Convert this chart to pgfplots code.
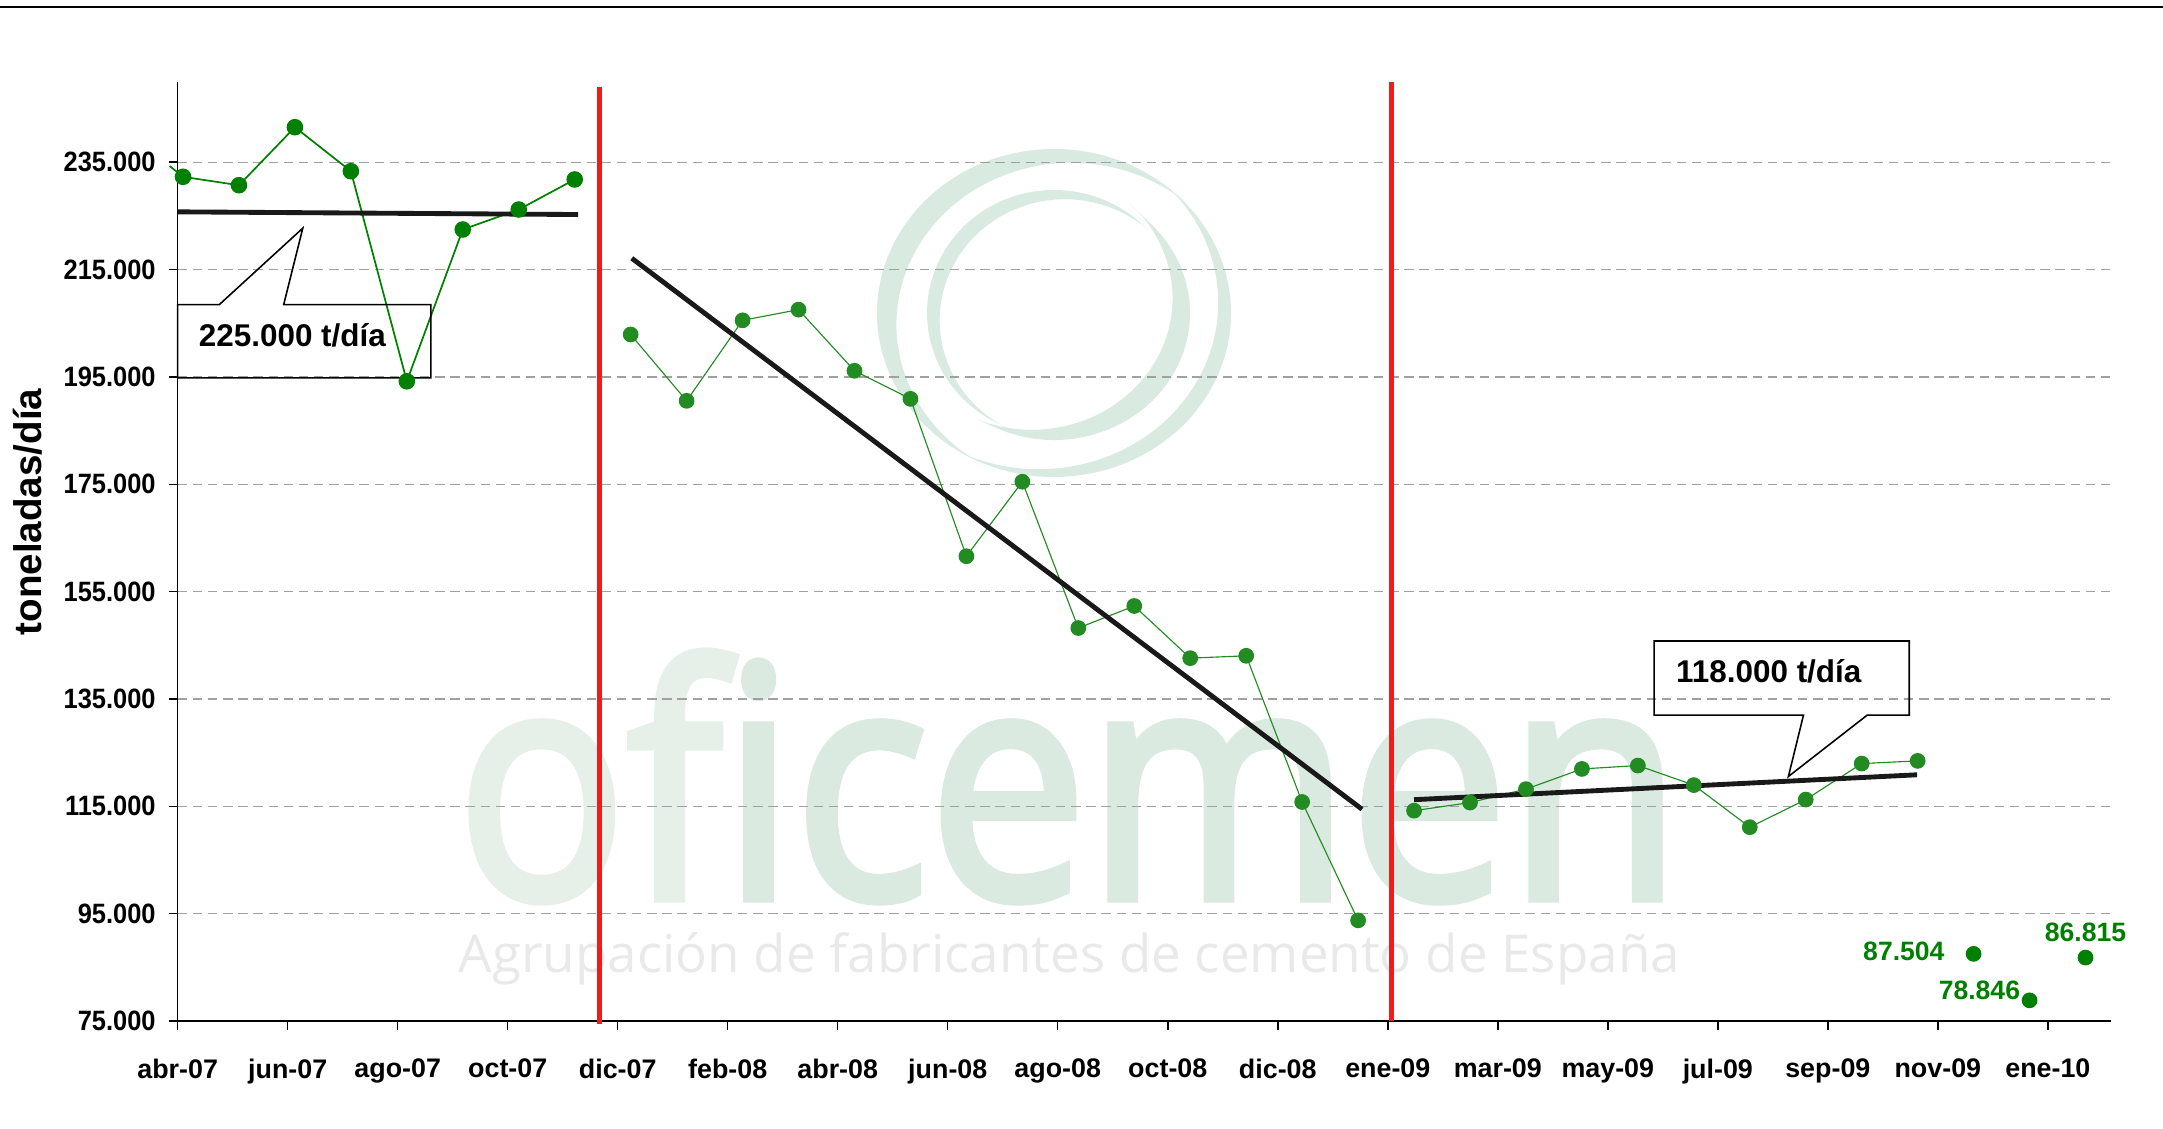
\documentclass[border=0pt]{standalone}
\usepackage{fontspec}
\setmainfont{Liberation Sans}
\newfontfamily\logofont[Ligatures=NoCommon]{Open Sans}
\newfontfamily\logofontm[Ligatures=NoCommon,FakeBold=2.8]{Open Sans}
\usepackage{graphicx}
\usepackage{pgfplots}
\pgfplotsset{compat=1.18}

\definecolor{dgreen}{RGB}{0,128,0}
\definecolor{lgreen}{RGB}{34,139,34}
\definecolor{wmgreen}{RGB}{217,235,224}
\definecolor{wmtext}{RGB}{218,234,224}
\definecolor{wmlight}{RGB}{230,240,233}
\definecolor{wmgray}{RGB}{233,233,233}
\definecolor{gridgray}{RGB}{160,160,160}
\definecolor{redline}{RGB}{240,28,28}
\definecolor{trend}{RGB}{25,25,25}

% crescent: cx cy rx ry a1 a2 thickness
\newcommand\crescent[7]{%
  \pgfmathsetmacro\cm{(#5+#6)/2}%
  \pgfmathsetmacro\ch{(#6-#5)/2}%
  \pgfmathsetmacro\cs{#7/(1-cos(\ch))}%
  \pgfmathsetmacro\ct{-\cs*cos(\ch)}%
  \pgfmathsetmacro\cxi{#1-\cs*cos(\cm)}%
  \pgfmathsetmacro\cyi{#2-\cs*sin(\cm)}%
  \pgfmathsetmacro\rxi{#3-\ct}%
  \pgfmathsetmacro\ryi{#4-\ct}%
  \pgfmathsetmacro\pax{#1+#3*cos(#5)}%
  \pgfmathsetmacro\pay{#2+#4*sin(#5)}%
  \pgfmathsetmacro\pbx{\cxi+\rxi*cos(#6)}%
  \pgfmathsetmacro\pby{\cyi+\ryi*sin(#6)}%
  \fill[wmgreen] (\pax,\pay) arc[start angle=#5,end angle=#6,x radius=#3,y radius=#4]
     -- (\pbx,\pby) arc[start angle=#6,end angle=#5,x radius=\rxi,y radius=\ryi] -- cycle;%
}

\begin{document}
\begin{tikzpicture}[x=0.35pt,y=0.35pt]
\useasboundingbox (0,0) rectangle (2163,-1128);
\draw[line width=0.45pt] (0,-7) -- (2163,-7);

% watermark logo
\crescent{1054}{-313}{177}{164}{50}{242}{23}
\crescent{1054}{-313}{177}{164}{-116}{48}{16}
\crescent{1054}{-313}{127}{123}{48}{243}{15}
\crescent{1054}{-313}{136}{127}{-114}{46}{22}
\node[anchor=base west, inner sep=0, text=wmtext] at (456,-898)
  {\resizebox{428.7pt}{86.1pt}{\logofontm\textcolor{wmlight}{of}icemen}};
\node[anchor=base west, inner sep=0, text=wmgray] at (458,-972)
  {\resizebox{427.5pt}{14pt}{\logofont Agrupación de fabricantes de cemento de España}};

% y label
\node[rotate=90, inner sep=0, font=\fontsize{13.5}{15}\selectfont\bfseries] at (28,-512) {toneladas/día};

\begin{axis}[
  at={(62.195pt,-357.35pt)}, anchor=south west,
  scale only axis, width=676.55pt, height=328.76pt,
  xmin=-0.095, xmax=34.45, ymin=75000, ymax=250000,
  scaled y ticks=false,
  axis lines*=left,
  axis line style={line width=0.5pt, black},
  xtick={-0.095,1.871,3.837,5.803,7.769,9.735,11.701,13.667,15.633,17.599,19.565,21.531,23.497,25.463,27.429,29.395,31.361,33.327},
  xticklabels={abr-07,jun-07,ago-07,oct-07,dic-07,feb-08,abr-08,jun-08,ago-08,oct-08,dic-08,ene-09,mar-09,may-09,jul-09,sep-09,nov-09,ene-10},
  ytick={75000,95000,115000,135000,155000,175000,195000,215000,235000},
  yticklabels={75.000,95.000,115.000,135.000,155.000,175.000,195.000,215.000,235.000},
  tick align=outside, major tick length=3pt,
  tick style={black, line width=0.5pt},
  xticklabel style={font=\fontsize{9.4}{11}\selectfont\bfseries, yshift=-6.8pt},
  yticklabel style={font=\fontsize{8.9}{11}\selectfont\bfseries, yscale=1.1, xshift=-1.2pt},
  ymajorgrids,
  grid style={gridgray, line width=0.45pt, dash pattern=on 3.3pt off 2pt},
  clip=false,
]
% red separators
\addplot[redline, line width=1.6pt] coordinates {(7.44,74400) (7.44,249050)};
\addplot[redline, line width=1.6pt] coordinates {(21.60,75000) (21.60,250000)};

% segment 1 (abr-07 .. nov-07)
\addplot[dgreen, line width=0.6pt] coordinates {(-0.24,234300) (0,232280)};
\addplot[dgreen, line width=0.6pt, mark=*, mark size=2.6pt, mark options={fill=dgreen, draw=dgreen}]
  coordinates {(0,232280) (1,230710) (2,241520) (3,233320) (4,194180) (5,222460) (6,226180) (7,231780)};
% segment 2 (dic-07 .. ene-09)
\addplot[lgreen, line width=0.4pt, mark=*, mark size=2.55pt, mark options={fill=lgreen, draw=lgreen}]
  coordinates {(8,202900) (9,190540) (10,205540) (11,207530) (12,196140) (13,190910) (14,161590)
   (15,175470) (16,148210) (17,152320) (18,142600) (19,143040) (20,115800) (21,93750)};
% segment 3 (feb-09 .. nov-09)
\addplot[lgreen, line width=0.4pt, mark=*, mark size=2.55pt, mark options={fill=lgreen, draw=lgreen}]
  coordinates {(22,114185) (23,115690) (24,118200) (25,121960) (26,122590) (27,118950) (28,111110)
   (29,116250) (30,122960) (31,123460)};
% isolated points
\addplot[only marks, mark=*, mark size=2.55pt, mark options={fill=dgreen, draw=dgreen}]
  coordinates {(32,87504) (33,78846) (34,86815)};

% trend lines
\addplot[trend, line width=1.7pt] coordinates {(-0.095,225750) (7.06,225250)};
\addplot[trend, line width=1.7pt] coordinates {(8.02,217100) (21.07,114450)};
\addplot[trend, line width=1.7pt] coordinates {(22.0,116230) (30.99,120870)};

% callouts
\draw[black, line width=0.55pt] (axis cs:-0.095,194810) -- (axis cs:-0.095,208480) -- (axis cs:0.65,208480)
  -- (axis cs:2.14,222700) -- (axis cs:1.80,208480) -- (axis cs:4.43,208480) -- (axis cs:4.43,194810) -- cycle;
\node[anchor=base, inner sep=0, font=\fontsize{11}{13}\selectfont\bfseries] at (axis cs:1.955,200700) {225.000 t/día};
\draw[black, line width=0.55pt] (axis cs:26.29,145800) -- (axis cs:30.85,145800) -- (axis cs:30.85,132000)
  -- (axis cs:30.10,132000) -- (axis cs:28.69,120550) -- (axis cs:28.96,132000) -- (axis cs:26.29,132000) -- cycle;
\node[anchor=base, inner sep=0, font=\fontsize{11}{13}\selectfont\bfseries] at (axis cs:28.34,138100) {118.000 t/día};

% value labels
\node[anchor=base east, inner sep=0, text=dgreen, font=\fontsize{9.3}{11}\selectfont\bfseries] at (axis cs:31.49,86350) {87.504};
\node[anchor=base east, inner sep=0, text=dgreen, font=\fontsize{9.3}{11}\selectfont\bfseries] at (axis cs:32.84,78950) {78.846};
\node[anchor=base, inner sep=0, text=dgreen, font=\fontsize{9.3}{11}\selectfont\bfseries] at (axis cs:34.0,89800) {86.815};
\end{axis}
\end{tikzpicture}
\end{document}
